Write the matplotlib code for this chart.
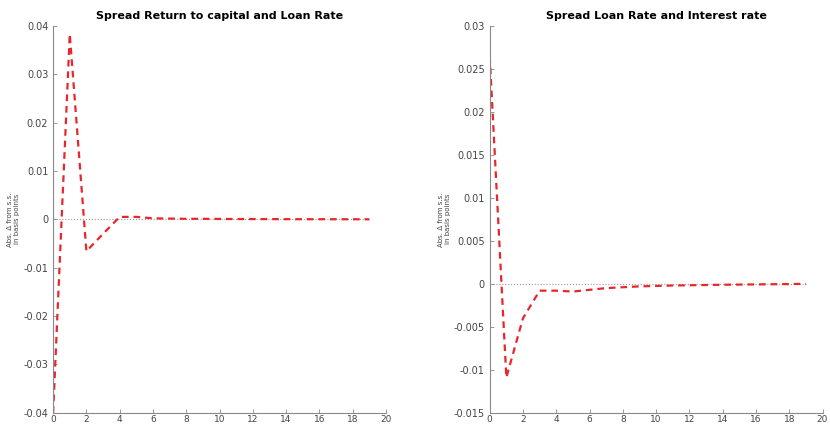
import numpy as np
import matplotlib.pyplot as plt

t = np.arange(20)
spread_rk_rl = [-0.04, 0.0383, -0.0066, -0.003, 0.0005, 0.0005, 0.0002, 0.00015, 0.0001, 0.0001,
                0.00008, 0.00006, 0.00005, 0.00004, 0.00003, 0.00002, 0.00002, 0.00001, 0.00001, 0.0]
spread_rl_r = [0.0265, -0.0109, -0.004, -0.0008, -0.0008, -0.0009, -0.0007, -0.0005, -0.0004, -0.0003,
               -0.00025, -0.0002, -0.00017, -0.00014, -0.00011, -0.00009, -0.00007, -0.00005, -0.00003, 0.0]

titles = ['Spread Return to capital and Loan Rate', 'Spread Loan Rate and Interest rate']
ylims = [(-0.04, 0.04), (-0.015, 0.03)]
yticks = [np.arange(-0.04, 0.041, 0.01), np.arange(-0.015, 0.031, 0.005)]
ytick_labels = [['-0.04', '-0.03', '-0.02', '-0.01', '0', '0.01', '0.02', '0.03', '0.04'],
                ['-0.015', '-0.01', '-0.005', '0', '0.005', '0.01', '0.015', '0.02', '0.025', '0.03']]

fig = plt.figure(figsize=(8.3, 4.3), dpi=100)
positions = [[0.064, 0.04, 0.401, 0.90], [0.590, 0.04, 0.401, 0.90]]
label_x = [-0.10, -0.115]
series = [spread_rk_rl, spread_rl_r]

for i in range(2):
    ax = fig.add_axes(positions[i])
    ax.plot(t, np.zeros(len(t)), ':', color='#999999', lw=0.8)
    ax.plot(t, series[i], '--', color='#e8262b', lw=1.6, dashes=(3, 2.2))
    ax.set_xlim(0, 20)
    ax.set_ylim(*ylims[i])
    ax.set_xticks(np.arange(0, 21, 2))
    ax.set_yticks(yticks[i])
    ax.set_yticklabels(ytick_labels[i])
    ax.set_title(titles[i], fontsize=8, fontweight='bold', pad=5)
    ax.set_ylabel('Abs. \u0394 from s.s.\nin basis points', fontsize=5, color='#444444')
    ax.yaxis.set_label_coords(label_x[i], 0.5)
    for s in ['top', 'right']:
        ax.spines[s].set_visible(False)
    for s in ['left', 'bottom']:
        ax.spines[s].set_color('#888888')
        ax.spines[s].set_linewidth(0.8)
    ax.tick_params(direction='in', length=3, width=0.6, colors='#888888', labelcolor='#444444', labelsize=7)
    ax.tick_params(axis='x', pad=1.5, labelsize=6.5)

plt.savefig('out.png', dpi=100)
